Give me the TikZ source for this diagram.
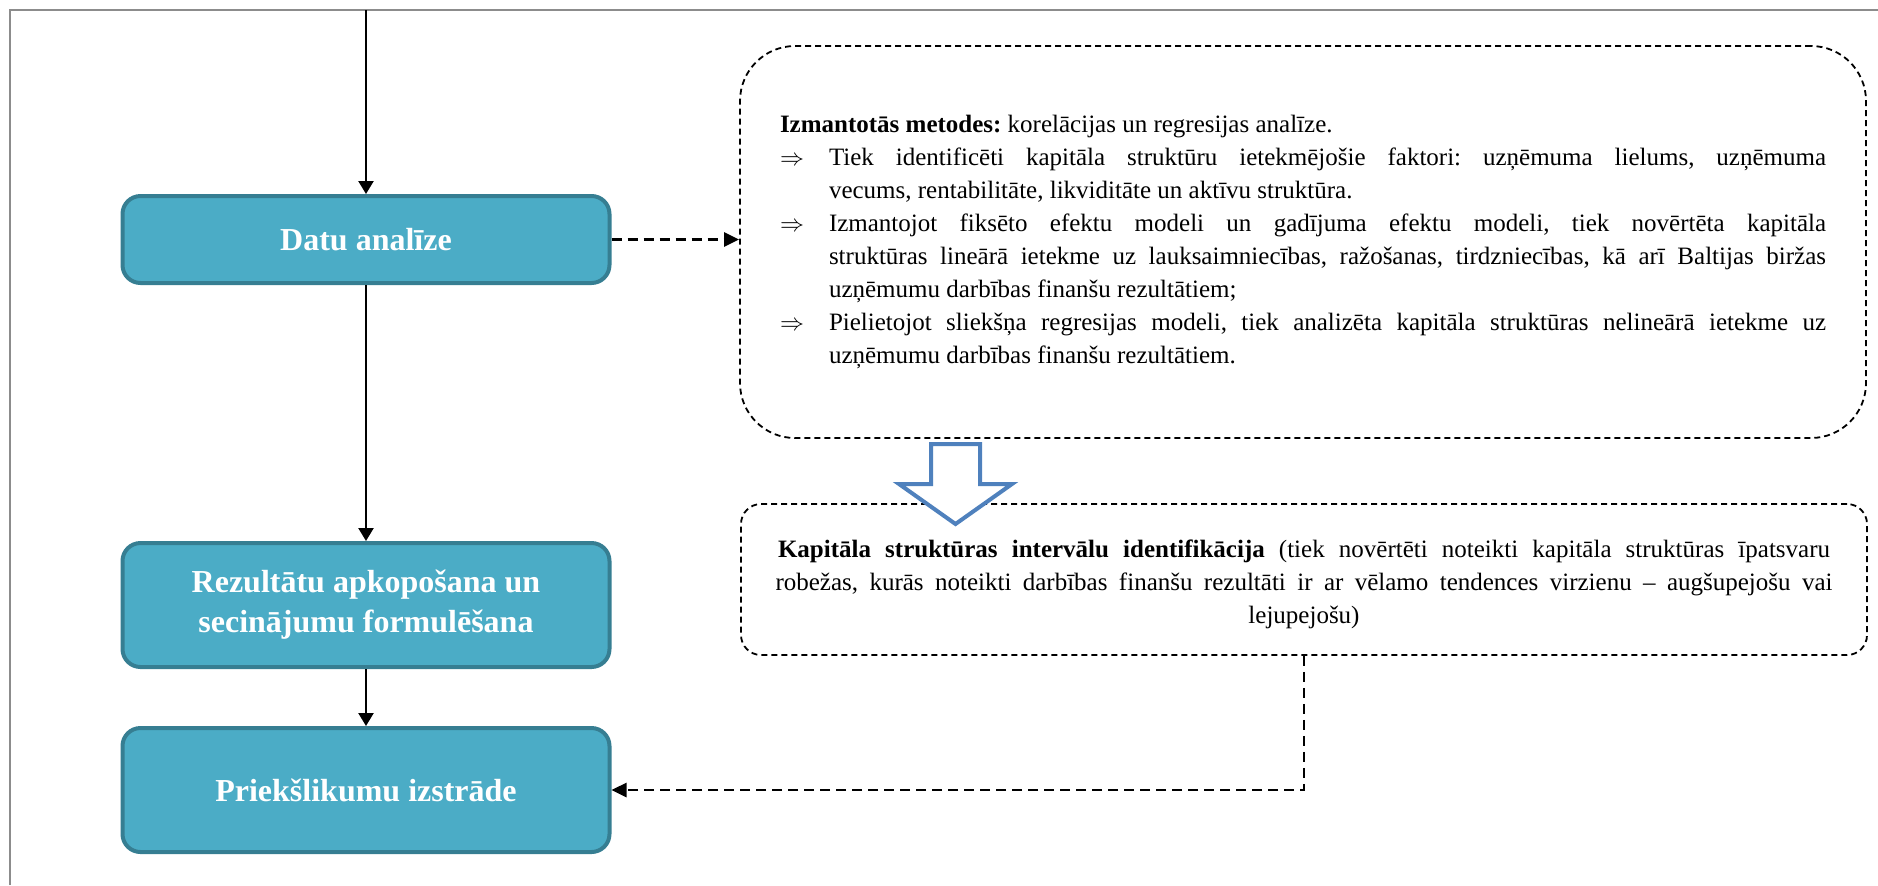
\documentclass[tikz,border=0pt]{standalone}
\usepackage{fontspec}
\setmainfont{Liberation Serif}
\usetikzlibrary{arrows.meta}
\definecolor{boxfill}{HTML}{4BACC6}
\definecolor{boxline}{HTML}{367E92}
\definecolor{hollowblue}{HTML}{4F81BD}
\definecolor{framegray}{HTML}{8C8C8C}

% use the font's own stretchable interword space
\newcommand\plainspaces{\spaceskip=0pt\xspaceskip=0pt\frenchspacing}
% justified line of given width
\newcommand\fullline[2]{\makebox[#1][s]{#2}}
% one list line: arrow marker plus a justified line of text
\newcommand\arrline[1]{\makebox[24.5pt][l]{$\Rightarrow$}\fullline{498.5pt}{#1}}
% continuation line, indented under the marker text
\newcommand\restline[1]{\hspace*{24.5pt}#1}

\begin{document}
\begin{tikzpicture}[x=0.5pt,y=-0.5pt,
  stagebox/.style={draw=boxline, fill=boxfill, line width=2pt, rounded corners=9pt,
    minimum width=243.5pt, text=white, font=\bfseries\fontsize{16}{20}\selectfont,
    align=center, inner sep=0pt},
  notebox/.style={draw, line width=0.9pt, dash pattern=on 3pt off 2pt, inner sep=0pt,
    font=\fontsize{12.5}{16.5}\selectfont},
  flow/.style={line width=1.2pt, -{Triangle[length=6.5pt,width=7.5pt]}},
  dflow/.style={line width=1.3pt, dash pattern=on 5pt off 3pt, -{Triangle[length=7.5pt,width=7pt]}},
]
\useasboundingbox (0,0) rectangle (1878,885);

% page frame
\draw[framegray, line width=1pt] (10,885) -- (10,10) -- (1878,10);

% main process steps
\node[stagebox, minimum height=43.5pt] (datu) at (366,239.5) {Datu analīze};
\node[stagebox, minimum height=62pt] (rez) at (366,605) {Rezultātu apkopošana un\\secinājumu formulēšana};
\node[stagebox, minimum height=62pt] (priek) at (366,790) {Priekšlikumu izstrāde};

% methods note
\node[notebox, rounded corners=27.5pt, minimum width=563pt, minimum height=196pt,
  text width=523pt, align=left] (metodes) at (1303,242) {\plainspaces
\textbf{Izmantotās metodes:} korelācijas un regresijas analīze.\\
\arrline{Tiek identificēti kapitāla struktūru ietekmējošie faktori: uzņēmuma lielums, uzņēmuma}\\
\restline{vecums, rentabilitāte, likviditāte un aktīvu struktūra.}\\
\arrline{Izmantojot fiksēto efektu modeli un gadījuma efektu modeli, tiek novērtēta kapitāla}\\
\restline{\fullline{498.5pt}{struktūras lineārā ietekme uz lauksaimniecības, ražošanas, tirdzniecības, kā arī Baltijas biržas}}\\
\restline{uzņēmumu darbības finanšu rezultātiem;}\\
\arrline{Pielietojot sliekšņa regresijas modeli, tiek analizēta kapitāla struktūras nelineārā ietekme uz}\\
\restline{uzņēmumu darbības finanšu rezultātiem.}};

% interval identification note
\node[notebox, rounded corners=10pt, minimum width=563pt, minimum height=75.5pt,
  text width=540pt, align=center] (kap) at (1304,579.5) {\plainspaces
\rule{0pt}{14pt}\fullline{526pt}{\textbf{Kapitāla struktūras intervālu identifikācija} (tiek novērtēti noteikti kapitāla struktūras īpatsvaru}\\
\fullline{528.5pt}{robežas, kurās noteikti darbības finanšu rezultāti ir ar vēlamo tendences virzienu – augšupejošu vai}\\
lejupejošu)};

% connectors
\coordinate (entry) at (366,10);
\draw[flow] (entry) -- (datu);
\draw[flow] (datu) -- (rez);
\draw[flow] (rez) -- (priek);
\draw[dflow] (datu.east) -- (datu.east -| metodes.west);
\draw[dflow] (kap.south) |- (priek.east);

% hollow block arrow between the notes
\draw[hollowblue, fill=white, line width=2pt, line join=miter]
  (931,444) -- (980,444) -- (980,484) -- (1012,484) -- (955.5,524)
  -- (899,484) -- (931,484) -- cycle;
\end{tikzpicture}
\end{document}
